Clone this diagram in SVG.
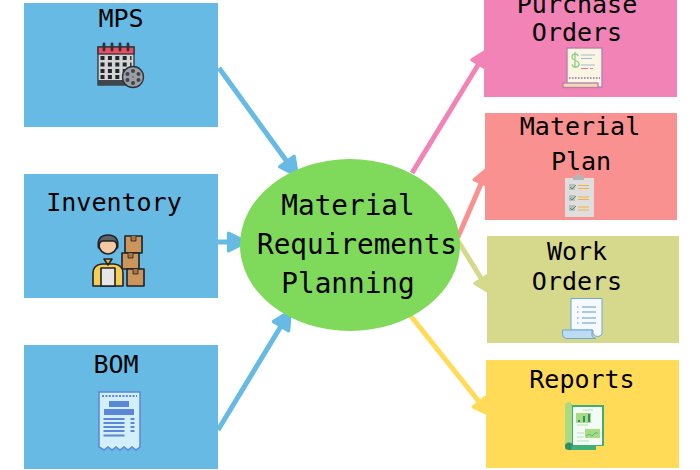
<svg xmlns="http://www.w3.org/2000/svg" width="700" height="470" viewBox="0 0 700 470">
<style>
text{font-family:"DejaVu Sans Mono","Liberation Mono",monospace;font-size:25px;fill:#000;text-anchor:middle}
.c{font-size:27.7px}
.l{fill:none;stroke-width:5}
.ol{stroke:#2e3238;stroke-width:1.300}
</style>
<defs>
<marker id="hb" viewBox="0 0 10 10" refX="8" refY="5" markerWidth="4.400" markerHeight="4.400" orient="auto"><path d="M1 1L9 5L1 9Z" fill="#66bae4" stroke="#66bae4" stroke-width="1.600" stroke-linejoin="round"/></marker>
<marker id="hp" viewBox="0 0 10 10" refX="8" refY="5" markerWidth="4" markerHeight="4" orient="auto"><path d="M1 1L9 5L1 9Z" fill="#f283b6" stroke="#f283b6" stroke-width="1.600" stroke-linejoin="round"/></marker>
<marker id="hs" viewBox="0 0 10 10" refX="8" refY="5" markerWidth="4" markerHeight="4" orient="auto"><path d="M1 1L9 5L1 9Z" fill="#fa9191" stroke="#fa9191" stroke-width="1.600" stroke-linejoin="round"/></marker>
<marker id="hk" viewBox="0 0 10 10" refX="8" refY="5" markerWidth="4" markerHeight="4" orient="auto"><path d="M1 1L9 5L1 9Z" fill="#d6d98b" stroke="#d6d98b" stroke-width="1.600" stroke-linejoin="round"/></marker>
<marker id="hy" viewBox="0 0 10 10" refX="8" refY="5" markerWidth="4" markerHeight="4" orient="auto"><path d="M1 1L9 5L1 9Z" fill="#ffdb58" stroke="#ffdb58" stroke-width="1.600" stroke-linejoin="round"/></marker>
</defs>

<g id="connectors">
<path class="l" stroke="#66bae4" marker-end="url(#hb)" d="M219 68L296 174"/>
<path class="l" stroke="#66bae4" marker-end="url(#hb)" d="M218 242L244 242"/>
<path class="l" stroke="#66bae4" marker-end="url(#hb)" d="M218 430L289 313"/>
<path class="l" stroke="#f283b6" marker-end="url(#hp)" d="M412 173L486 52"/>
<path class="l" stroke="#fa9191" marker-end="url(#hs)" d="M458 237L487 170"/>
<path class="l" stroke="#d6d98b" marker-end="url(#hk)" d="M458 241L489 291"/>
<path class="l" stroke="#ffdb58" marker-end="url(#hy)" d="M410 315L488 413"/>
</g>

<g id="mps">
<rect x="24" y="3" width="194" height="124" fill="#66bae4"/>
<text x="121" y="27">MPS</text>
<rect x="98" y="47" width="36" height="38" fill="#d5d5d5" class="ol"/>
<rect x="98" y="47" width="36" height="7" fill="#ec4f5f" class="ol"/>
<rect x="98" y="80" width="36" height="5" fill="#40454d"/>
<path d="M104 44v6M112 44v6M120 44v6M128 44v6" stroke="#2e3238" stroke-width="2.800" stroke-linecap="round"/>
<path d="M100.500 58h31M100.500 64.500h31M100.500 71h31M100.500 77h31" stroke="#23262b" stroke-width="4" stroke-dasharray="4 3.400"/>
<circle cx="133" cy="77" r="10.500" fill="#9a9ea5" stroke="#2e3238" stroke-width="1.300"/>
<g fill="#3f434a"><circle cx="133" cy="71" r="2"/><circle cx="133" cy="83" r="2"/><circle cx="127.500" cy="74" r="2"/><circle cx="138.500" cy="74" r="2"/><circle cx="127.500" cy="80" r="2"/><circle cx="138.500" cy="80" r="2"/><circle cx="133" cy="77" r=".8"/></g>
</g>

<g id="inventory">
<rect x="24" y="174" width="194" height="124" fill="#66bae4"/>
<text x="114" y="211">Inventory</text>
<g stroke="#1f2226" stroke-width="1.600" stroke-linejoin="round">
<rect x="125" y="236" width="17" height="17" fill="#cb955c"/>
<rect x="122" y="253" width="17" height="16" fill="#cb955c"/>
<rect x="127" y="269" width="17" height="17" fill="#cb955c"/>
<path d="M93 286v-13q0-8 9-9h12q9 1 9 9v13Z" fill="#f7cd55"/>
<rect x="101" y="268" width="14" height="18" fill="#e6e6e6"/>
<circle cx="108" cy="245" r="9" fill="#f5c9a2"/>
<path d="M98.500 248q-2-13 9.500-13q11.500 0 9.500 13q-1-7-4-7h-11q-3 0-4 7Z" fill="#5f6266"/>
<path d="M104 259h8l-4 6Z" fill="#f2b23c"/>
</g>
<path d="M131 236v5h5v-5M128 253v5h5v-5M133 269v5h5v-5" fill="#a9743f" stroke="#1f2226" stroke-width=".8"/>
</g>

<g id="bom">
<rect x="24" y="345" width="194" height="124" fill="#66bae4"/>
<text x="116" y="373">BOM</text>
<path d="M99 392H140V447L136 450L132 447L128 450L124 447L120 450L116 447L112 450L108 447L104 450L99 447Z" fill="#d2effa" stroke="#5b87d6" stroke-width="1.500"/>
<path d="M102 396h35" stroke="#5b87d6" stroke-width="2" stroke-dasharray="2 1.400"/>
<rect x="109" y="401" width="20" height="6" fill="#5b87d6"/>
<rect x="104" y="409" width="30" height="6" fill="#5b87d6"/>
<path d="M103.500 419h21M103.500 423h21M103.500 427h21M103.500 431h21M103.500 435.500h21M130.500 419h4M130.500 423h4M130.500 427h4M130.500 431h4" stroke="#5b87d6" stroke-width="2"/>
</g>

<g id="purchase-orders">
<rect x="484" y="-10" width="193" height="107" fill="#f283b6"/>
<text x="577" y="13">Purchase</text>
<text x="577" y="41">Orders</text>
<rect x="567" y="48" width="35" height="39" fill="#fbf5e3" stroke="#b47cb0" stroke-width="1.300"/>
<rect x="563" y="83" width="35" height="4.500" fill="#f3d9ad" stroke="#b47cb0" stroke-width="1.300"/>
<path d="M569 78h31" stroke="#8f6a9c" stroke-width="1.500" stroke-dasharray="1.500 1.500"/>
<path d="M581 55h14M581 58.500h11M581 65h14" stroke="#9dbfd2" stroke-width="1"/>
<path d="M581 68.500h7M590 68.500h3" stroke="#ec7d86" stroke-width="1"/>
<path d="M578.500 56q-1-2-3.500-2t-3 2.500t3.500 4t3.500 4t-3.500 2.500t-3.500-2.500M575 52v16" fill="none" stroke="#8fd088" stroke-width="1.300"/>
</g>

<g id="material-plan">
<rect x="485" y="113" width="192" height="107" fill="#fa9191"/>
<text x="580" y="135">Material</text>
<text x="581" y="170">Plan</text>
<rect x="565" y="178" width="29" height="39" fill="#dedede"/>
<path d="M573 180v-3q3-1 4-3h3q1 2 4 3v3Z" fill="#b5b5b5"/>
<rect x="569" y="184" width="6" height="6" fill="#bdbdbd"/><rect x="569" y="195" width="6" height="6" fill="#bdbdbd"/><rect x="569" y="205" width="6" height="6" fill="#bdbdbd"/>
<path d="M570 187l2 2l4-4M570 198l2 2l4-4M570 208l2 2l4-4" fill="none" stroke="#3f9a55" stroke-width="1"/>
<path d="M578 185.500h11M578 188.500h11M578 197h11M578 199.500h11M578 207h11M578 210h11" stroke="#f5b040" stroke-width="1"/>
</g>

<g id="work-orders">
<rect x="487" y="236" width="192" height="107" fill="#d6d98b"/>
<text x="577" y="260">Work</text>
<text x="577" y="290">Orders</text>
<g stroke="#6fa6d6" stroke-width="1">
<path d="M571 330V298.500H602V334Q598 339 593 334V330Z" fill="#f6f9fd"/>
<path d="M562.500 330H592V336Q593 338 596 338.500H566Q562.500 338 562.500 334Z" fill="#bddcf3"/>
<path d="M582 307h14M582 312h14M582 318h14M582 323h14M577 307h1.500M577 312h1.500M577 318h1.500M577 323h1.500" stroke="#5d9ad1"/>
</g>
</g>

<g id="reports">
<rect x="486" y="360" width="193" height="108" fill="#ffdb58"/>
<text x="582" y="388">Reports</text>
<path d="M570 450H596V446H604V405H570Z" fill="#3fae78"/>
<rect x="573" y="407" width="29" height="38" fill="#f4fbf4"/>
<path d="M565 404q3.500-4 7 0V447H565Z" fill="#a8dc82"/>
<path d="M565 447a4 4 0 0 1 8-1q-2 0 -2 4H569q-4 0-4-3Z" fill="#2f8f66"/>
<path d="M583 410h10M577 425h11M577 433h7M577 437h7M577 441h12" stroke="#b5dfc0" stroke-width="1"/>
<rect x="576" y="413" width="15" height="10" fill="#a8dc82"/>
<path d="M579 422v-2M584 422v-6M589 422v-8" stroke="#2f8f66" stroke-width="2"/>
<rect x="585" y="429" width="15" height="9" fill="#a8dc82"/>
<path d="M586 436l3-2l3 2l3-3l3 0" fill="none" stroke="#3fae78" stroke-width=".8"/>
</g>

<g id="mrp">
<ellipse cx="350" cy="245" rx="110" ry="86" fill="#7fd95a"/>
<text class="c" x="348" y="215">Material</text>
<text class="c" x="357" y="254">Requirements</text>
<text class="c" x="348" y="293">Planning</text>
</g>
</svg>
